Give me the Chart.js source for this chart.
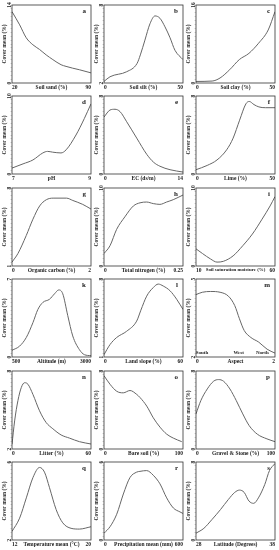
<!DOCTYPE html>
<html>
<head>
<meta charset="utf-8">
<script src="https://cdn.jsdelivr.net/npm/chart.js@4.4.1/dist/chart.umd.min.js"></script>
<style>
html, body { margin: 0; padding: 0; background: #fff; }
#wrap { position: relative; width: 279px; height: 550px; }
#wrap canvas { position: absolute; }
</style>
</head>
<body>
<div id="wrap"></div>
<script>
var panelLetters = ["a", "b", "c", "d", "e", "f", "g", "h", "i", "k", "l", "m", "n", "o", "p", "q", "r", "s"];
var xTitles = ["Soil sand (%)", "Soil silt (%)", "Soil clay (%)", "pH", "EC (ds/m)", "Lime (%)",
    "Organic carbon (%)", "Total nitrogen (%)", "Soil saturation moisture (%)",
    "Altitude (m)", "Land slope (%)", "Aspect", "Litter (%)", "Bare soil (%)", "Gravel & Stone (%)",
    "Temperature mean (°C)", "Precipitation mean (mm)", "Latitude (Degrees)"];
var xEnds = [["20", "90"], ["0", "50"], ["0", "50"], ["7", "9"], ["0", "14"], ["0", "50"],
    ["0", "2"], ["0", "0.25"], ["10", "60"], ["500", "3000"], ["0", "60"], ["0", "2"],
    ["0", "60"], ["0", "100"], ["0", "100"], ["12", "20"], ["0", "600"], ["28", "38"]];
var yEnds = [["0", "14"], ["2", "8"], ["0", "16"], ["0", "10"], ["0", "8"], ["0", "8"],
    ["1", "8"], ["0", "10"], ["0", "10"], ["0", "7"], ["1", "8"], ["2", "5"],
    ["2", "8"], ["0", "8"], ["0", "8"], ["2", "6"], ["0", "6"], ["0", "8"]];
var yTitle = "Cover mean (%)";
var aspectNotes = ["South", "West", "North"];

// curves: x in axis units, y as share of the axis height (0 bottom, 1 top)
var sandX = [20, 26.8, 32.6, 38.5, 44.4, 50.3, 56.2, 63.5, 67.9, 73.8, 79.7, 90];
var sandY = [0.915, 0.745, 0.58, 0.49, 0.43, 0.36, 0.30, 0.234, 0.213, 0.19, 0.17, 0.13];
var siltX = [0, 3.8, 14.4, 20.9, 23, 25.9, 29.1, 32.3, 35.4, 38.6, 41.8, 44.9, 50];
var siltY = [0.02, 0.08, 0.145, 0.25, 0.36, 0.55, 0.76, 0.86, 0.83, 0.72, 0.58, 0.42, 0.30];
var clayX = [0, 10.2, 15.2, 21.3, 27.4, 33.5, 39.6, 45.7, 50];
var clayY = [0.02, 0.025, 0.064, 0.17, 0.30, 0.38, 0.51, 0.68, 0.915];
var phX = [7, 7.28, 7.53, 7.78, 7.9, 8.03, 8.24, 8.37, 8.62, 8.83, 9];
var phY = [0.076, 0.13, 0.18, 0.27, 0.29, 0.28, 0.27, 0.31, 0.50, 0.71, 0.90];
var ecX = [0, 1.06, 1.95, 2.84, 4.02, 5.8, 7.6, 8.8, 9.9, 11.7, 14];
var ecY = [0.73, 0.82, 0.83, 0.80, 0.67, 0.46, 0.25, 0.15, 0.10, 0.055, 0.025];
var limeX = [0, 7.1, 13.3, 19.4, 23.5, 27.6, 31.6, 33.7, 36.7, 39.8, 43.9, 50];
var limeY = [0.055, 0.11, 0.18, 0.31, 0.46, 0.69, 0.90, 0.93, 0.89, 0.86, 0.85, 0.85];
var carbonX = [0, 0.15, 0.36, 0.53, 0.70, 0.87, 1.04, 1.38, 1.54, 1.79, 2];
var carbonY = [0.05, 0.16, 0.39, 0.60, 0.77, 0.85, 0.87, 0.87, 0.84, 0.79, 0.73];
var nitrogenX = [0, 0.019, 0.040, 0.066, 0.093, 0.114, 0.135, 0.156, 0.177, 0.198, 0.219, 0.25];
var nitrogenY = [0.16, 0.26, 0.47, 0.63, 0.77, 0.81, 0.82, 0.80, 0.79, 0.82, 0.85, 0.91];
var moistX = [10, 14.1, 19.2, 23.3, 27.3, 33.5, 39.6, 45.7, 51.8, 56.9, 60];
var moistY = [0.22, 0.16, 0.09, 0.05, 0.06, 0.13, 0.26, 0.41, 0.60, 0.77, 0.89];
var altX = [500, 742, 952, 1162, 1319, 1477, 1687, 1845, 1981, 2107, 2265, 2422, 2632, 2790, 3000];
var altY = [0.086, 0.14, 0.25, 0.44, 0.61, 0.70, 0.74, 0.81, 0.86, 0.81, 0.53, 0.27, 0.095, 0.03, 0.017];
var slopeX = [0, 4.6, 9.6, 17.2, 24.8, 28, 32.4, 37.4, 41.2, 45.0, 50.1, 55.2, 60];
var slopeY = [0.03, 0.16, 0.25, 0.33, 0.46, 0.60, 0.78, 0.89, 0.935, 0.91, 0.85, 0.74, 0.61];
var aspectX = [0, 0.16, 0.37, 0.61, 0.82, 0.98, 1.10, 1.22, 1.39, 1.59, 1.80, 2];
var aspectY = [0.80, 0.83, 0.84, 0.83, 0.78, 0.66, 0.49, 0.34, 0.25, 0.19, 0.10, 0.05];
var litterX = [0, 2.0, 4.5, 7.1, 9.6, 12.1, 15.9, 20.9, 25.9, 31.0, 37.3, 43.6, 51.2, 60];
var litterY = [0.06, 0.36, 0.62, 0.79, 0.85, 0.83, 0.70, 0.49, 0.34, 0.26, 0.18, 0.14, 0.094, 0.064];
var bareX = [0, 7.6, 16.1, 24.4, 32.9, 41.4, 45.6, 54.1, 62.4, 70.9, 79.4, 87.7, 98.4];
var bareY = [0.94, 0.83, 0.74, 0.72, 0.75, 0.70, 0.66, 0.55, 0.40, 0.28, 0.19, 0.14, 0.094];
var gravelX = [0, 6.1, 14.3, 22.4, 28.6, 34.7, 42.9, 51.0, 59.2, 67.3, 77.6, 89.8, 100];
var gravelY = [0.45, 0.62, 0.77, 0.87, 0.89, 0.87, 0.77, 0.62, 0.45, 0.30, 0.19, 0.13, 0.094];
var tempX = [12, 12.77, 13.45, 14.12, 14.79, 15.29, 15.8, 16.47, 17.14, 17.98, 18.82, 20];
var tempY = [0.11, 0.28, 0.54, 0.80, 0.93, 0.87, 0.67, 0.39, 0.22, 0.15, 0.14, 0.17];
var precipX = [0, 45.6, 96.5, 147, 197, 248, 273, 324, 374, 425, 476, 527, 577, 600];
var precipY = [0.087, 0.17, 0.33, 0.59, 0.80, 0.87, 0.88, 0.89, 0.83, 0.72, 0.54, 0.41, 0.36, 0.34];
var latX = [28, 29, 30, 31.1, 32.1, 32.9, 33.5, 34.1, 34.7, 35.3, 35.9, 36.7, 37.3, 38];
var latY = [0.087, 0.15, 0.26, 0.39, 0.52, 0.61, 0.64, 0.61, 0.50, 0.47, 0.54, 0.71, 0.89, 0.98];

var curvesX = [sandX, siltX, clayX, phX, ecX, limeX, carbonX, nitrogenX, moistX,
    altX, slopeX, aspectX, litterX, bareX, gravelX, tempX, precipX, latX];
var curvesY = [sandY, siltY, clayY, phY, ecY, limeY, carbonY, nitrogenY, moistY,
    altY, slopeY, aspectY, litterY, bareY, gravelY, tempY, precipY, latY];

var FONT = '"Liberation Serif", "DejaVu Serif", serif';
var INK = "#222";

// frame, rotated y labels, panel letter
var panelText = {
    id: "panelText",
    afterDraw: function(chart, args, opts) {
        var ctx = chart.ctx;
        var a = chart.chartArea;
        var y = chart.scales.y;
        var x = chart.scales.x;
        ctx.save();
        ctx.strokeStyle = "#333";
        ctx.lineWidth = 0.8;
        ctx.strokeRect(a.left, a.top, a.right - a.left, a.bottom - a.top);

        ctx.fillStyle = INK;
        ctx.textBaseline = "middle";
        ctx.font = "bold 5.5px " + FONT;
        // y title
        ctx.save();
        ctx.translate(5, (a.top + a.bottom) / 2);
        ctx.rotate(-Math.PI / 2);
        ctx.textAlign = "center";
        ctx.fillText(yTitle, 0, 0);
        ctx.restore();
        // y end labels
        [[y.min, opts.yLabels[0]], [y.max, opts.yLabels[1]]].forEach(function(t) {
            ctx.save();
            ctx.translate(9.5, y.getPixelForValue(t[0]));
            ctx.rotate(-Math.PI / 2);
            ctx.textAlign = "center";
            ctx.fillText(t[1], 0, 0);
            ctx.restore();
        });
        // letter
        ctx.font = "bold 7px " + FONT;
        ctx.textAlign = "right";
        ctx.fillText(opts.letter, a.right - 5, a.top + 6);

        if (opts.notes) {
            ctx.font = "bold 5px " + FONT;
            ctx.textAlign = "center";
            opts.notes.forEach(function(n) {
                ctx.fillText(n[0], x.getPixelForValue(n[1]), a.bottom - 4);
            });
        }
        ctx.restore();
    }
};

var wrap = document.getElementById("wrap");

panelLetters.forEach(function(letter, i) {
    var col = i % 3;
    var row = Math.floor(i / 3);
    var canvas = document.createElement("canvas");
    canvas.width = 92;
    canvas.height = 91;
    canvas.style.left = (col * 92) + "px";
    canvas.style.top = Math.round(row * 91.4) + "px";
    wrap.appendChild(canvas);

    var xmin = Number(xEnds[i][0]);
    var xmax = Number(xEnds[i][1]);
    var points = curvesX[i].map(function(v, k) {
        return { x: v, y: curvesY[i][k] };
    });
    var tickText = [xEnds[i][0], xTitles[i], xEnds[i][1]];
    var notes = null;
    if (letter === "m") {
        notes = [[aspectNotes[0], 0.15], [aspectNotes[1], 1.08], [aspectNotes[2], 1.68]];
    }

    new Chart(canvas, {
        type: "line",
        data: {
            datasets: [{
                data: points,
                borderColor: "#666",
                borderWidth: 1,
                pointRadius: 0,
                fill: false,
                cubicInterpolationMode: "monotone"
            }]
        },
        options: {
            responsive: false,
            animation: false,
            devicePixelRatio: 1,
            layout: { padding: { top: 5, right: 1, left: 0, bottom: 0 } },
            plugins: {
                legend: { display: false },
                tooltip: { enabled: false },
                panelText: { letter: letter, yLabels: yEnds[i], notes: notes }
            },
            scales: {
                x: {
                    type: "linear",
                    min: xmin,
                    max: xmax,
                    afterFit: function(s) { s.height = 8; },
                    afterBuildTicks: function(s) {
                        s.ticks = [{ value: xmin }, { value: (xmin + xmax) / 2 }, { value: xmax }];
                    },
                    grid: { display: false, drawTicks: false },
                    border: { display: false },
                    ticks: {
                        autoSkip: false,
                        maxRotation: 0,
                        minRotation: 0,
                        align: "inner",
                        padding: 1,
                        color: INK,
                        font: function(c) {
                            var long = c.index === 1 && tickText[1].length > 24;
                            return { family: FONT, size: long ? 4.9 : 5.5, weight: "bold" };
                        },
                        callback: function(v, k) { return tickText[k]; }
                    }
                },
                y: {
                    min: 0,
                    max: 1,
                    afterFit: function(s) { s.width = 12; },
                    ticks: { display: false, stepSize: 0.05 },
                    grid: { drawOnChartArea: false, tickLength: 1.5, color: "#aaa", lineWidth: 0.5 },
                    border: { display: false }
                }
            }
        },
        plugins: [panelText]
    });
});
</script>
</body>
</html>
